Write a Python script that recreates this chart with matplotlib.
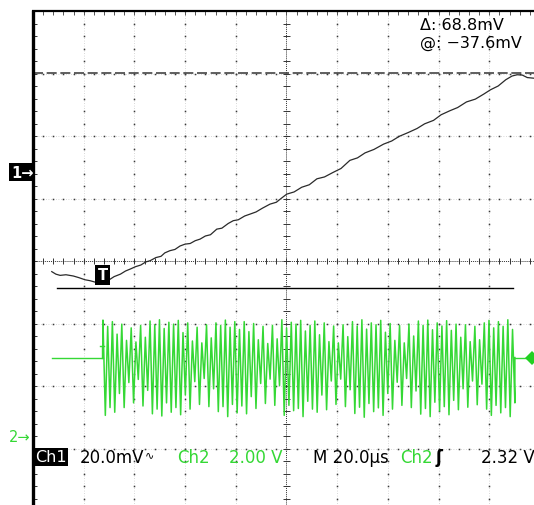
import numpy as np
import matplotlib
matplotlib.use("Agg")
import matplotlib.pyplot as plt
from matplotlib.transforms import Affine2D

# ---- channel settings ----
CH1_SCALE_MV = 20.0      # mV / div
CH2_SCALE_V = 2.0        # V / div
TIME_SCALE_US = 20.0     # us / div
CH1_POS = 5.45           # ch1 ground, divisions from bottom
CH2_POS = 1.18           # ch2 ground, divisions from bottom

# cursor readout (mV)
cursor_delta = 68.8
cursor_at = -37.6
trigger_level = 2.32     # V

# ---- Ch1 trace: time (us), voltage (mV) ----
ch1_t = [7.4, 9.0, 10.7, 13.0, 15.9, 18.0, 20.5, 22.5, 25.1, 27.5, 29.7, 32.0,
         34.5, 36.5, 38.3, 40.5, 42.5, 44.5, 46.2, 48.5, 50.5, 52.0, 54.0, 56.0,
         58.0, 60.0, 62.0, 64.0, 65.9, 68.0, 70.0, 72.5, 74.5, 77.0, 79.0, 81.0,
         83.5, 85.6, 88.0, 90.5, 93.5, 96.0, 98.0, 100.1, 103.0, 106.0, 109.0,
         112.0, 115.0, 118.5, 121.5, 125.0, 128.0, 131.0, 134.5, 138.3, 141.5,
         144.5, 148.0, 151.5, 154.5, 158.0, 161.0, 164.5, 167.5, 171.0, 174.5,
         177.8, 180.5, 183.5, 186.5, 189.0, 191.0, 193.0, 195.0, 197.5]
ch1_mv = [-32.4, -33.2, -33.6, -33.4, -33.8, -34.3, -35.0, -35.3, -35.9, -35.8,
          -35.2, -34.0, -33.2, -32.2, -31.6, -30.8, -30.3, -29.3, -28.9, -27.9,
          -27.5, -26.4, -25.7, -25.3, -24.2, -23.6, -23.4, -22.5, -22.0, -21.0,
          -20.6, -18.8, -18.5, -17.0, -16.1, -15.8, -14.6, -14.0, -13.3, -12.1,
          -10.8, -10.2, -8.9, -7.6, -6.9, -5.4, -4.6, -2.7, -2.1, -0.6, 0.6,
          3.2, 4.0, 5.6, 6.7, 8.4, 9.4, 10.9, 12.1, 13.4, 14.9, 16.0, 17.8,
          19.1, 20.1, 21.9, 22.8, 24.4, 25.8, 27.0, 29.0, 30.2, 30.6, 30.5,
          29.7, 29.5]

# ---- Ch2 trace: idle level and burst peaks (V) ----
ch2_idle = 2.55
ch2_lead_t = [7.5, 27.6]
ch2_tail_t = [190.1, 196.4]
burst_start, burst_end = 27.6, 190.1
burst_hi = [3.75, 3.55, 3.70, 3.30, 3.62, 3.10, 3.50, 3.05, 3.58, 3.20, 3.72, 3.60, 3.76, 3.48, 3.68,
            3.62, 3.74, 3.35, 3.66, 3.08, 3.52, 3.02, 3.60, 3.18, 3.66, 3.58, 3.75, 3.52, 3.70, 3.45,
            3.70, 3.38, 3.64, 3.12, 3.55, 3.00, 3.58, 3.15, 3.76, 3.50, 3.68, 3.62, 3.74, 3.40, 3.58,
            3.72, 3.28, 3.66, 3.06, 3.56, 3.02, 3.60, 3.22, 3.70, 3.56, 3.76, 3.46, 3.66, 3.60, 3.74,
            3.36, 3.64, 3.10, 3.58, 3.02, 3.62, 3.24, 3.72, 3.58, 3.75, 3.44, 3.66, 3.56, 3.73, 3.42,
            3.62, 3.20, 3.60, 3.06, 3.55, 3.12, 3.66, 3.74, 3.50, 3.70, 3.55, 3.76, 3.45]
burst_lo = [0.70, 0.95, 0.80, 1.40, 0.95, 1.75, 1.10, 1.85, 1.00, 1.50, 0.75, 0.90, 0.68, 1.10, 0.80,
            0.95, 0.72, 1.35, 0.90, 1.78, 1.05, 1.88, 0.98, 1.55, 0.82, 0.98, 0.66, 1.05, 0.78, 1.00,
            0.75, 1.30, 0.92, 1.72, 1.08, 1.86, 1.02, 1.65, 0.70, 1.02, 0.85, 0.92, 0.66, 1.15, 0.90,
            0.80, 1.35, 0.88, 1.80, 1.05, 1.86, 0.98, 1.52, 0.76, 0.96, 0.64, 1.08, 0.82, 0.94, 0.70,
            1.40, 0.90, 1.76, 1.02, 1.88, 0.95, 1.48, 0.74, 0.92, 0.66, 1.12, 0.84, 0.98, 0.72, 1.18,
            0.88, 1.55, 0.96, 1.80, 1.04, 1.70, 0.90, 0.70, 1.02, 0.78, 0.95, 0.66, 1.10]

W, H = 534, 506
fig = plt.figure(figsize=(W / 100, H / 100), dpi=100)
fig.patch.set_facecolor("white")
ax = fig.add_axes([0, 0, 1, 1])
# graticule in divisions: 10 x 8, left edge at x=0, top edge at y=8
ax.set_xlim(-0.651, 9.882)
ax.set_ylim(0.096, 8.192)
ax.axis("off")

ch1_tr = Affine2D().scale(1 / TIME_SCALE_US, 1 / CH1_SCALE_MV).translate(0, CH1_POS) + ax.transData
ch2_tr = Affine2D().scale(1 / TIME_SCALE_US, 1 / CH2_SCALE_V).translate(0, CH2_POS) + ax.transData

# ---- graticule ----
fine = np.arange(0, 10.01, 0.2)
fine_y = np.arange(0, 8.01, 0.2)
for i in range(1, 10):
    if i == 5:
        continue
    ax.plot([i, i], [0, 8], color="#cccccc", lw=0.6, ls=(0, (1, 2)), zorder=1)
    ax.plot(np.full_like(fine_y, i), fine_y, ls="none", marker="s", ms=1.1,
            color="#3a3a3a", mew=0, zorder=1)
for j in range(1, 8):
    if j == 4:
        continue
    ax.plot([0, 10], [j, j], color="#cccccc", lw=0.6, ls=(0, (1, 2)), zorder=1)
    ax.plot(fine, np.full_like(fine, j), ls="none", marker="s", ms=1.1,
            color="#3a3a3a", mew=0, zorder=1)

# centre axes with fine ticks
ax.plot([5, 5], [0, 8], color="#333333", lw=0.7, ls=(0, (1, 1)), zorder=1)
ax.plot([0, 10], [4, 4], color="#333333", lw=0.7, ls=(0, (1, 1)), zorder=1)
ax.hlines(fine_y, 5 - 0.07, 5 + 0.07, color="#333333", lw=0.7, zorder=1)
ax.vlines(fine, 4 - 0.05, 4 + 0.05, color="#333333", lw=0.7, zorder=1)

# edge ticks
ax.hlines(fine_y, 0, 0.08, color="#333333", lw=0.7, zorder=1)
ax.vlines(fine, 7.93, 8, color="#555555", lw=0.7, zorder=1)

# frame
ax.plot([0, 0], [-1, 8.02], color="black", lw=2.4, solid_capstyle="butt", zorder=5)
ax.plot([-0.02, 11], [8, 8], color="black", lw=1.6, solid_capstyle="butt", zorder=5)

# ---- cursors ----
cursor_hi = cursor_at + cursor_delta
ax.plot([0, 200], [cursor_hi, cursor_hi], color="#444444", lw=1.2,
        dashes=(6, 2.2), transform=ch1_tr, zorder=3)
ax.plot([9.5, 189.3], [cursor_at, cursor_at], color="black", lw=1.0,
        transform=ch1_tr, zorder=3)

# ---- Ch2 trace ----
green = "#35d835"
n = len(burst_hi)
half = np.linspace(burst_start, burst_end, 2 * n)
zig = np.empty(2 * n)
zig[0::2] = burst_hi
zig[1::2] = burst_lo
ax.plot(ch2_lead_t, [ch2_idle, ch2_idle], color=green, lw=1.0, transform=ch2_tr, zorder=2)
ax.plot([burst_start - 0.3, burst_start - 0.3], [ch2_idle, ch2_idle + 0.38], color=green,
        lw=1.0, transform=ch2_tr, zorder=2)
ax.plot([burst_start - 1.2, burst_start + 0.6], [ch2_idle + 0.38, ch2_idle + 0.38], color=green,
        lw=1.0, transform=ch2_tr, zorder=2)
ax.plot(np.concatenate([[burst_start], half, [burst_end]]),
        np.concatenate([[ch2_idle], zig, [ch2_idle]]),
        color=green, lw=1.1, transform=ch2_tr, zorder=2)
ax.plot(ch2_tail_t, [ch2_idle, ch2_idle], color=green, lw=1.0, transform=ch2_tr, zorder=2)
ax.plot([ch2_tail_t[-1] + 0.5], [ch2_idle], marker="D", ms=7, color="#22d022",
        mew=0, transform=ch2_tr, zorder=4)

# ---- Ch1 trace ----
ax.plot(ch1_t, ch1_mv, color="#2a2a2a", lw=0.9, transform=ch1_tr, zorder=4)


def fp(x, y):
    return x / W, 1 - y / H


# trigger marker on trace
fig.text(*fp(102.5, 276), "T", color="white", fontsize=10.5, fontweight="bold",
         ha="center", va="center",
         bbox=dict(facecolor="black", edgecolor="none", boxstyle="square,pad=0.18"))

# channel ground markers
fig.text(*fp(11, 173), "1\u2192", color="white", fontsize=10.5, fontweight="bold",
         ha="left", va="center",
         bbox=dict(facecolor="black", edgecolor="none", boxstyle="square,pad=0.12"))
fig.text(*fp(9, 438), "2\u2192", color=green, fontsize=10.5, ha="left", va="center")

# cursor readout
fig.text(*fp(420, 26), "\u0394: %.1fmV" % cursor_delta, fontsize=11.5, ha="left", va="center")
fig.text(*fp(420, 43), "@: \u2212%.1fmV" % abs(cursor_at), fontsize=11.5, ha="left", va="center")

# status line
yb = 458
fig.text(*fp(35, yb), "Ch1", color="white", fontsize=11.5, ha="left", va="center",
         bbox=dict(facecolor="black", edgecolor="none", boxstyle="square,pad=0.1"))
fig.text(*fp(80, yb), "%.1fmV" % CH1_SCALE_MV, fontsize=12, ha="left", va="center")
fig.text(*fp(144.5, yb - 3), "\u223F", fontsize=8, ha="left", va="center")
fig.text(*fp(177, yb), "Ch2", color=green, fontsize=12, ha="left", va="center")
fig.text(*fp(229, yb), "%.2f V" % CH2_SCALE_V, color=green, fontsize=12, ha="left", va="center")
fig.text(*fp(313, yb), "M %.1f\u00b5s" % TIME_SCALE_US, fontsize=12, ha="left", va="center")
fig.text(*fp(400, yb), "Ch2", color=green, fontsize=12, ha="left", va="center")
fig.text(*fp(436, yb), "\u0283", fontsize=12, fontweight="bold", ha="left", va="center")
fig.text(*fp(481, yb), "%.2f V" % trigger_level, fontsize=12, ha="left", va="center")

fig.savefig("out.png", dpi=100, facecolor="white")
